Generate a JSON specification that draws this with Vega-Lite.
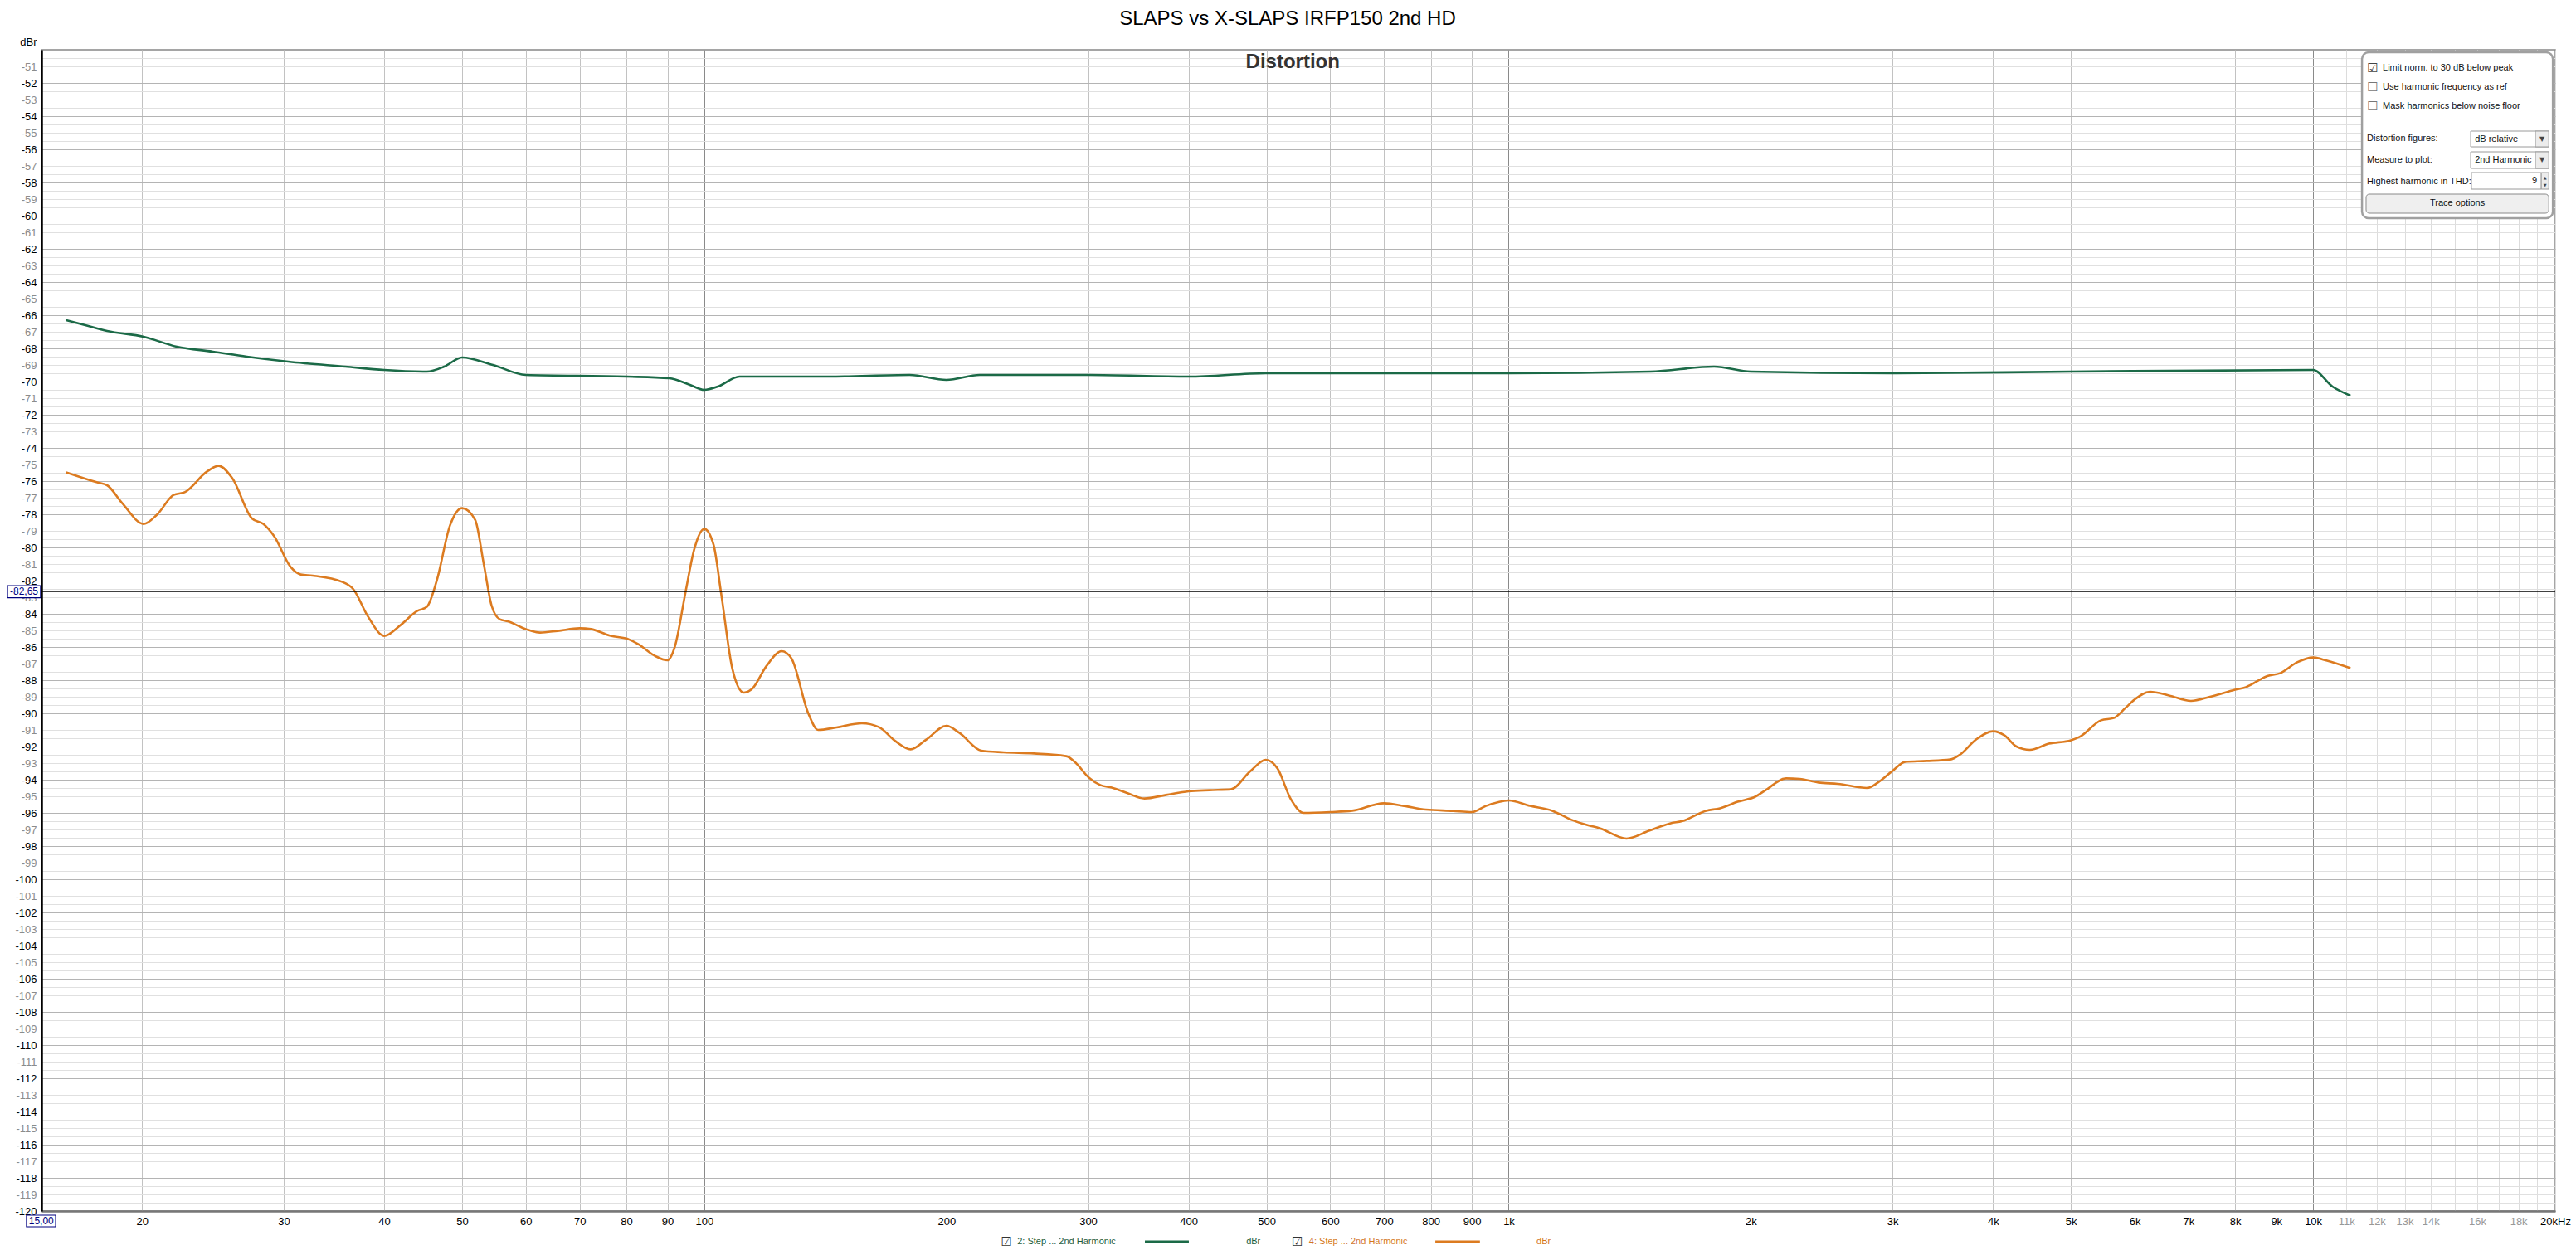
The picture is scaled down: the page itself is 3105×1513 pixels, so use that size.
{
  "$schema": "https://vega.github.io/schema/vega-lite/v6.json",
  "width": 3030,
  "height": 1400,
  "autosize": "none",
  "padding": {"left": 50, "top": 60, "right": 25, "bottom": 53},
  "background": "white",
  "title": {"text": "SLAPS vs X-SLAPS IRFP150 2nd HD", "font": "Liberation Sans", "fontSize": 24, "fontWeight": "normal", "color": "#000", "anchor": "middle", "dx": -13, "dy": 22, "offset": 12, "baseline": "alphabetic"},
  "config": {"view": {"stroke": "#888", "strokeWidth": 1.5}, "font": "Liberation Sans", "axis": {"labelOverlap": false, "labelSeparation": 0}},
  "data": {"values": [{}]},
  "datasets": {
    "curves": [
      {"series": "Step 2", "hz": 16.1, "db": -66.3},
      {"series": "Step 2", "hz": 17.0, "db": -66.6},
      {"series": "Step 2", "hz": 18.1, "db": -66.95},
      {"series": "Step 2", "hz": 20.1, "db": -67.3},
      {"series": "Step 2", "hz": 22.1, "db": -67.9},
      {"series": "Step 2", "hz": 24.5, "db": -68.2},
      {"series": "Step 2", "hz": 27, "db": -68.5},
      {"series": "Step 2", "hz": 30.4, "db": -68.8},
      {"series": "Step 2", "hz": 35.8, "db": -69.1},
      {"series": "Step 2", "hz": 40, "db": -69.3},
      {"series": "Step 2", "hz": 45.2, "db": -69.4},
      {"series": "Step 2", "hz": 47.5, "db": -69.1},
      {"series": "Step 2", "hz": 50, "db": -68.55},
      {"series": "Step 2", "hz": 54.6, "db": -69.0},
      {"series": "Step 2", "hz": 60, "db": -69.6},
      {"series": "Step 2", "hz": 80, "db": -69.7},
      {"series": "Step 2", "hz": 90.5, "db": -69.8},
      {"series": "Step 2", "hz": 96, "db": -70.2},
      {"series": "Step 2", "hz": 100, "db": -70.5},
      {"series": "Step 2", "hz": 104, "db": -70.3},
      {"series": "Step 2", "hz": 110.6, "db": -69.7},
      {"series": "Step 2", "hz": 143, "db": -69.7},
      {"series": "Step 2", "hz": 180, "db": -69.6},
      {"series": "Step 2", "hz": 200, "db": -69.9},
      {"series": "Step 2", "hz": 220, "db": -69.6},
      {"series": "Step 2", "hz": 300, "db": -69.6},
      {"series": "Step 2", "hz": 400, "db": -69.7},
      {"series": "Step 2", "hz": 500, "db": -69.5},
      {"series": "Step 2", "hz": 1000, "db": -69.5},
      {"series": "Step 2", "hz": 1500, "db": -69.4},
      {"series": "Step 2", "hz": 1800, "db": -69.1},
      {"series": "Step 2", "hz": 2000, "db": -69.4},
      {"series": "Step 2", "hz": 3000, "db": -69.5},
      {"series": "Step 2", "hz": 5000, "db": -69.4},
      {"series": "Step 2", "hz": 10000, "db": -69.3},
      {"series": "Step 2", "hz": 10570, "db": -70.3},
      {"series": "Step 2", "hz": 11130, "db": -70.85},
      {"series": "Step 4", "hz": 16.1, "db": -75.47},
      {"series": "Step 4", "hz": 17.6, "db": -76.08},
      {"series": "Step 4", "hz": 18.1, "db": -76.25},
      {"series": "Step 4", "hz": 18.9, "db": -77.33},
      {"series": "Step 4", "hz": 20.1, "db": -78.58},
      {"series": "Step 4", "hz": 20.9, "db": -78.0},
      {"series": "Step 4", "hz": 21.9, "db": -76.83},
      {"series": "Step 4", "hz": 22.6, "db": -76.67},
      {"series": "Step 4", "hz": 24.1, "db": -75.42},
      {"series": "Step 4", "hz": 24.9, "db": -75.08},
      {"series": "Step 4", "hz": 25.9, "db": -75.83},
      {"series": "Step 4", "hz": 27.4, "db": -78.25},
      {"series": "Step 4", "hz": 28.3, "db": -78.58},
      {"series": "Step 4", "hz": 29.2, "db": -79.33},
      {"series": "Step 4", "hz": 30.6, "db": -81.17},
      {"series": "Step 4", "hz": 31.5, "db": -81.63},
      {"series": "Step 4", "hz": 32.6, "db": -81.7},
      {"series": "Step 4", "hz": 35.5, "db": -82.08},
      {"series": "Step 4", "hz": 36.6, "db": -82.5},
      {"series": "Step 4", "hz": 38.2, "db": -84.17},
      {"series": "Step 4", "hz": 40.0, "db": -85.33},
      {"series": "Step 4", "hz": 41.95, "db": -84.67},
      {"series": "Step 4", "hz": 43.95, "db": -83.83},
      {"series": "Step 4", "hz": 45.2, "db": -83.58},
      {"series": "Step 4", "hz": 46.5, "db": -82.0},
      {"series": "Step 4", "hz": 48.3, "db": -78.67},
      {"series": "Step 4", "hz": 50.0, "db": -77.63},
      {"series": "Step 4", "hz": 51.9, "db": -78.33},
      {"series": "Step 4", "hz": 53.2, "db": -81.0},
      {"series": "Step 4", "hz": 54.4, "db": -83.5},
      {"series": "Step 4", "hz": 55.7, "db": -84.33},
      {"series": "Step 4", "hz": 57.0, "db": -84.45},
      {"series": "Step 4", "hz": 60.0, "db": -84.92},
      {"series": "Step 4", "hz": 62.5, "db": -85.13},
      {"series": "Step 4", "hz": 65.7, "db": -85.03},
      {"series": "Step 4", "hz": 70.0, "db": -84.87},
      {"series": "Step 4", "hz": 72.3, "db": -84.92},
      {"series": "Step 4", "hz": 76.5, "db": -85.33},
      {"series": "Step 4", "hz": 80.2, "db": -85.5},
      {"series": "Step 4", "hz": 82.8, "db": -85.83},
      {"series": "Step 4", "hz": 86.8, "db": -86.53},
      {"series": "Step 4", "hz": 90.0, "db": -86.8},
      {"series": "Step 4", "hz": 91.9, "db": -86.0},
      {"series": "Step 4", "hz": 94.8, "db": -82.67},
      {"series": "Step 4", "hz": 97.1, "db": -80.17},
      {"series": "Step 4", "hz": 100, "db": -78.88},
      {"series": "Step 4", "hz": 102.7, "db": -79.83},
      {"series": "Step 4", "hz": 105, "db": -82.83},
      {"series": "Step 4", "hz": 108.4, "db": -87.33},
      {"series": "Step 4", "hz": 112, "db": -88.75},
      {"series": "Step 4", "hz": 114.8, "db": -88.5},
      {"series": "Step 4", "hz": 119.4, "db": -87.17},
      {"series": "Step 4", "hz": 124.8, "db": -86.25},
      {"series": "Step 4", "hz": 128.3, "db": -86.67},
      {"series": "Step 4", "hz": 134.7, "db": -90.0},
      {"series": "Step 4", "hz": 138.5, "db": -91.0},
      {"series": "Step 4", "hz": 146, "db": -90.85},
      {"series": "Step 4", "hz": 157, "db": -90.6},
      {"series": "Step 4", "hz": 164.9, "db": -90.83},
      {"series": "Step 4", "hz": 172.8, "db": -91.67},
      {"series": "Step 4", "hz": 180.5, "db": -92.17},
      {"series": "Step 4", "hz": 188.8, "db": -91.58},
      {"series": "Step 4", "hz": 200, "db": -90.75},
      {"series": "Step 4", "hz": 207.5, "db": -91.17},
      {"series": "Step 4", "hz": 221, "db": -92.25},
      {"series": "Step 4", "hz": 235.5, "db": -92.35},
      {"series": "Step 4", "hz": 257, "db": -92.42},
      {"series": "Step 4", "hz": 281.8, "db": -92.58},
      {"series": "Step 4", "hz": 289.8, "db": -93.0},
      {"series": "Step 4", "hz": 300, "db": -93.83},
      {"series": "Step 4", "hz": 311, "db": -94.33},
      {"series": "Step 4", "hz": 321, "db": -94.47},
      {"series": "Step 4", "hz": 336.5, "db": -94.83},
      {"series": "Step 4", "hz": 352.5, "db": -95.13},
      {"series": "Step 4", "hz": 375, "db": -94.92},
      {"series": "Step 4", "hz": 400, "db": -94.7},
      {"series": "Step 4", "hz": 424.5, "db": -94.63},
      {"series": "Step 4", "hz": 451.5, "db": -94.58},
      {"series": "Step 4", "hz": 477, "db": -93.5},
      {"series": "Step 4", "hz": 499, "db": -92.8},
      {"series": "Step 4", "hz": 516, "db": -93.33},
      {"series": "Step 4", "hz": 536, "db": -95.17},
      {"series": "Step 4", "hz": 556, "db": -96.0},
      {"series": "Step 4", "hz": 600, "db": -95.95},
      {"series": "Step 4", "hz": 639, "db": -95.87},
      {"series": "Step 4", "hz": 700, "db": -95.42},
      {"series": "Step 4", "hz": 741, "db": -95.58},
      {"series": "Step 4", "hz": 789, "db": -95.8},
      {"series": "Step 4", "hz": 853, "db": -95.88},
      {"series": "Step 4", "hz": 900, "db": -95.95},
      {"series": "Step 4", "hz": 937, "db": -95.58},
      {"series": "Step 4", "hz": 1000, "db": -95.25},
      {"series": "Step 4", "hz": 1063, "db": -95.58},
      {"series": "Step 4", "hz": 1133, "db": -95.87},
      {"series": "Step 4", "hz": 1197, "db": -96.42},
      {"series": "Step 4", "hz": 1256, "db": -96.75},
      {"series": "Step 4", "hz": 1297, "db": -96.92},
      {"series": "Step 4", "hz": 1401, "db": -97.55},
      {"series": "Step 4", "hz": 1494, "db": -97.08},
      {"series": "Step 4", "hz": 1590, "db": -96.62},
      {"series": "Step 4", "hz": 1642, "db": -96.5},
      {"series": "Step 4", "hz": 1760, "db": -95.87},
      {"series": "Step 4", "hz": 1831, "db": -95.72},
      {"series": "Step 4", "hz": 1926, "db": -95.33},
      {"series": "Step 4", "hz": 2030, "db": -95.0},
      {"series": "Step 4", "hz": 2081, "db": -94.67},
      {"series": "Step 4", "hz": 2213, "db": -93.92},
      {"series": "Step 4", "hz": 2300, "db": -93.95},
      {"series": "Step 4", "hz": 2427, "db": -94.17},
      {"series": "Step 4", "hz": 2565, "db": -94.25},
      {"series": "Step 4", "hz": 2792, "db": -94.5},
      {"series": "Step 4", "hz": 2878, "db": -94.17},
      {"series": "Step 4", "hz": 3000, "db": -93.47},
      {"series": "Step 4", "hz": 3113, "db": -92.92},
      {"series": "Step 4", "hz": 3309, "db": -92.87},
      {"series": "Step 4", "hz": 3540, "db": -92.78},
      {"series": "Step 4", "hz": 3636, "db": -92.5},
      {"series": "Step 4", "hz": 3810, "db": -91.58},
      {"series": "Step 4", "hz": 4000, "db": -91.08},
      {"series": "Step 4", "hz": 4135, "db": -91.33},
      {"series": "Step 4", "hz": 4278, "db": -92.0},
      {"series": "Step 4", "hz": 4445, "db": -92.2},
      {"series": "Step 4", "hz": 4693, "db": -91.83},
      {"series": "Step 4", "hz": 5000, "db": -91.62},
      {"series": "Step 4", "hz": 5125, "db": -91.42},
      {"series": "Step 4", "hz": 5451, "db": -90.42},
      {"series": "Step 4", "hz": 5652, "db": -90.28},
      {"series": "Step 4", "hz": 5845, "db": -89.67},
      {"series": "Step 4", "hz": 6000, "db": -89.17},
      {"series": "Step 4", "hz": 6270, "db": -88.7},
      {"series": "Step 4", "hz": 6620, "db": -88.92},
      {"series": "Step 4", "hz": 7050, "db": -89.25},
      {"series": "Step 4", "hz": 7447, "db": -89.0},
      {"series": "Step 4", "hz": 8000, "db": -88.58},
      {"series": "Step 4", "hz": 8250, "db": -88.42},
      {"series": "Step 4", "hz": 8772, "db": -87.75},
      {"series": "Step 4", "hz": 9100, "db": -87.58},
      {"series": "Step 4", "hz": 9555, "db": -86.92},
      {"series": "Step 4", "hz": 10000, "db": -86.63},
      {"series": "Step 4", "hz": 10410, "db": -86.83},
      {"series": "Step 4", "hz": 11130, "db": -87.28}
    ]
  },
  "resolve": {"axis": {"y": "independent"}},
  "layer": [
    {
      "mark": {"type": "point", "opacity": 0},
      "encoding": {
        "y": {"datum": -100, "type": "quantitative", "scale": {"domain": [-120, -50], "nice": false, "zero": false},
          "axis": {"orient": "left", "title": null, "labels": false, "ticks": false, "domain": false, "tickCount": 1000,
            "values": [-120,-119.5,-119,-118.5,-118,-117.5,-117,-116.5,-116,-115.5,-115,-114.5,-114,-113.5,-113,-112.5,-112,-111.5,-111,-110.5,-110,-109.5,-109,-108.5,-108,-107.5,-107,-106.5,-106,-105.5,-105,-104.5,-104,-103.5,-103,-102.5,-102,-101.5,-101,-100.5,-100,-99.5,-99,-98.5,-98,-97.5,-97,-96.5,-96,-95.5,-95,-94.5,-94,-93.5,-93,-92.5,-92,-91.5,-91,-90.5,-90,-89.5,-89,-88.5,-88,-87.5,-87,-86.5,-86,-85.5,-85,-84.5,-84,-83.5,-83,-82.5,-82,-81.5,-81,-80.5,-80,-79.5,-79,-78.5,-78,-77.5,-77,-76.5,-76,-75.5,-75,-74.5,-74,-73.5,-73,-72.5,-72,-71.5,-71,-70.5,-70,-69.5,-69,-68.5,-68,-67.5,-67,-66.5,-66,-65.5,-65,-64.5,-64,-63.5,-63,-62.5,-62,-61.5,-61,-60.5,-60,-59.5,-59,-58.5,-58,-57.5,-57,-56.5,-56,-55.5,-55,-54.5,-54,-53.5,-53,-52.5,-52,-51.5,-51,-50.5],
            "grid": true, "gridWidth": 1,
            "gridColor": {"condition": {"test": "abs(datum.value % 2) < 0.01", "value": "#b4b4b4"}, "value": "#e0e0e0"}}}
      }
    },
    {
      "layer": [
        {
          "data": {"name": "curves"},
          "mark": {"type": "line", "interpolate": "monotone", "strokeWidth": 2.6},
          "encoding": {
            "x": {"field": "hz", "type": "quantitative", "scale": {"type": "log", "domain": [15, 20000], "nice": false},
              "axis": {"title": null, "tickCount": 1000, "values": [20,30,40,50,60,70,80,90,100,200,300,400,500,600,700,800,900,1000,2000,3000,4000,5000,6000,7000,8000,9000,10000,11000,12000,13000,14000,15000,16000,17000,18000,19000,20000],
                "labelExpr": "datum.value == 15000 || datum.value == 17000 || datum.value == 19000 ? '' : datum.value == 20000 ? '20kHz' : datum.value >= 1000 ? (datum.value / 1000) + 'k' : '' + datum.value",
                "labelFont": "Liberation Sans", "labelFontSize": 13, "labelPadding": 6, "labelOverlap": false, "labelFlush": false, "labelBound": false,
                "labelColor": {"condition": {"test": "datum.value > 10500 && datum.value < 19500", "value": "#999999"}, "value": "#000000"},
                "ticks": false, "domainColor": "#777777", "domainWidth": 2.5,
                "grid": true, "gridWidth": 1,
                "gridColor": {"condition": [{"test": "datum.value == 100 || datum.value == 1000 || datum.value == 10000", "value": "#8a8a8a"}, {"test": "datum.value > 10500", "value": "#dcdcdc"}], "value": "#c2c2c2"}}},
            "y": {"field": "db", "type": "quantitative", "scale": {"domain": [-120, -50], "nice": false, "zero": false},
              "axis": {"orient": "left", "title": "dBr", "titleAngle": 0, "titleAlign": "right", "titleBaseline": "alphabetic", "titleX": -6, "titleY": -6, "titleFont": "Liberation Sans", "titleFontSize": 13, "titleFontWeight": "normal", "titleColor": "#000", "tickCount": 1000,
                "values": [-120,-119,-118,-117,-116,-115,-114,-113,-112,-111,-110,-109,-108,-107,-106,-105,-104,-103,-102,-101,-100,-99,-98,-97,-96,-95,-94,-93,-92,-91,-90,-89,-88,-87,-86,-85,-84,-83,-82,-81,-80,-79,-78,-77,-76,-75,-74,-73,-72,-71,-70,-69,-68,-67,-66,-65,-64,-63,-62,-61,-60,-59,-58,-57,-56,-55,-54,-53,-52,-51],
                "labelExpr": "'-' + abs(datum.value)",
                "labelFont": "Liberation Sans", "labelFontSize": 13, "labelPadding": 6, "labelOverlap": false, "labelSeparation": 0, "labelFlush": false, "labelBound": false,
                "labelColor": {"condition": {"test": "abs(datum.value % 2) < 0.01", "value": "#000000"}, "value": "#8c8c8c"},
                "ticks": false, "domainColor": "#000000", "domainWidth": 2.5, "grid": false}},
            "color": {"field": "series", "type": "nominal", "scale": {"domain": ["Step 2", "Step 4"], "range": ["#1b6a47", "#dc7b20"]}, "legend": null}
          }
        },
        {"mark": {"type": "rule", "color": "#000000", "strokeWidth": 1.5}, "encoding": {"y": {"datum": -82.65}}},
        {"mark": {"type": "rect", "fill": "#ffffff", "stroke": "#000080", "strokeWidth": 1.2}, "encoding": {"x": {"datum": 13.61}, "x2": {"datum": 14.96}, "y": {"datum": -82.3}, "y2": {"datum": -83.035}}},
        {"mark": {"type": "text", "color": "#000080", "fontSize": 12, "font": "Liberation Sans", "align": "center", "baseline": "middle"}, "encoding": {"x": {"datum": 14.27}, "y": {"datum": -82.65}, "text": {"value": "-82,65"}}},
        {"mark": {"type": "rect", "fill": "#ffffff", "stroke": "#000080", "strokeWidth": 1.2}, "encoding": {"x": {"datum": 14.37}, "x2": {"datum": 15.62}, "y": {"datum": -120.25}, "y2": {"datum": -120.95}}},
        {"mark": {"type": "text", "color": "#000080", "fontSize": 12, "font": "Liberation Sans", "align": "center", "baseline": "middle"}, "encoding": {"x": {"datum": 14.99}, "y": {"datum": -120.6}, "text": {"value": "15,00"}}},
        {"mark": {"type": "text", "color": "#333333", "fontSize": 24, "fontWeight": "bold", "font": "Liberation Sans", "align": "center", "baseline": "middle"}, "encoding": {"x": {"datum": 539}, "y": {"datum": -50.75}, "text": {"value": "Distortion"}}},
        {"mark": {"type": "rect", "fill": "#ffffff", "stroke": "#a0a0a0", "strokeWidth": 2.5, "cornerRadius": 8}, "encoding": {"x": {"datum": 11503}, "x2": {"datum": 19865}, "y": {"datum": -50.15}, "y2": {"datum": -60.15}}},
        {"mark": {"type": "text", "color": "#444444", "fontSize": 15, "font": "DejaVu Sans", "align": "center", "baseline": "middle"}, "encoding": {"x": {"datum": 11863}, "y": {"datum": -51.1}, "text": {"value": "☑"}}},
        {"mark": {"type": "text", "color": "#777777", "fontSize": 15, "font": "DejaVu Sans", "align": "center", "baseline": "middle"}, "encoding": {"x": {"datum": 11863}, "y": {"datum": -52.25}, "text": {"value": "☐"}}},
        {"mark": {"type": "text", "color": "#777777", "fontSize": 15, "font": "DejaVu Sans", "align": "center", "baseline": "middle"}, "encoding": {"x": {"datum": 11863}, "y": {"datum": -53.4}, "text": {"value": "☐"}}},
        {"mark": {"type": "text", "color": "#111111", "fontSize": 11, "font": "Liberation Sans", "align": "left", "baseline": "middle"}, "encoding": {"x": {"datum": 12206}, "y": {"datum": -51.1}, "text": {"value": "Limit norm. to 30 dB below peak"}}},
        {"mark": {"type": "text", "color": "#111111", "fontSize": 11, "font": "Liberation Sans", "align": "left", "baseline": "middle"}, "encoding": {"x": {"datum": 12206}, "y": {"datum": -52.25}, "text": {"value": "Use harmonic frequency as ref"}}},
        {"mark": {"type": "text", "color": "#111111", "fontSize": 11, "font": "Liberation Sans", "align": "left", "baseline": "middle"}, "encoding": {"x": {"datum": 12206}, "y": {"datum": -53.4}, "text": {"value": "Mask harmonics below noise floor"}}},
        {"mark": {"type": "text", "color": "#111111", "fontSize": 11, "font": "Liberation Sans", "align": "left", "baseline": "middle"}, "encoding": {"x": {"datum": 11667}, "y": {"datum": -55.35}, "text": {"value": "Distortion figures:"}}},
        {"mark": {"type": "text", "color": "#111111", "fontSize": 11, "font": "Liberation Sans", "align": "left", "baseline": "middle"}, "encoding": {"x": {"datum": 11667}, "y": {"datum": -56.65}, "text": {"value": "Measure to plot:"}}},
        {"mark": {"type": "text", "color": "#111111", "fontSize": 11, "font": "Liberation Sans", "align": "left", "baseline": "middle"}, "encoding": {"x": {"datum": 11667}, "y": {"datum": -57.95}, "text": {"value": "Highest harmonic in THD:"}}},
        {"mark": {"type": "rect", "fill": "#ffffff", "stroke": "#9a9a9a", "strokeWidth": 1}, "encoding": {"x": {"datum": 15699}, "x2": {"datum": 19632}, "y": {"datum": -54.9}, "y2": {"datum": -55.85}}},
        {"mark": {"type": "rect", "fill": "#ffffff", "stroke": "#9a9a9a", "strokeWidth": 1}, "encoding": {"x": {"datum": 15699}, "x2": {"datum": 19632}, "y": {"datum": -56.15}, "y2": {"datum": -57.15}}},
        {"mark": {"type": "rect", "fill": "#ffffff", "stroke": "#9a9a9a", "strokeWidth": 1}, "encoding": {"x": {"datum": 15735}, "x2": {"datum": 19216}, "y": {"datum": -57.4}, "y2": {"datum": -58.4}}},
        {"mark": {"type": "rect", "fill": "#ececec", "stroke": "#9a9a9a", "strokeWidth": 1}, "encoding": {"x": {"datum": 18894}, "x2": {"datum": 19632}, "y": {"datum": -54.9}, "y2": {"datum": -55.85}}},
        {"mark": {"type": "rect", "fill": "#ececec", "stroke": "#9a9a9a", "strokeWidth": 1}, "encoding": {"x": {"datum": 18894}, "x2": {"datum": 19632}, "y": {"datum": -56.15}, "y2": {"datum": -57.15}}},
        {"mark": {"type": "rect", "fill": "#ececec", "stroke": "#9a9a9a", "strokeWidth": 1}, "encoding": {"x": {"datum": 19216}, "x2": {"datum": 19632}, "y": {"datum": -57.4}, "y2": {"datum": -58.4}}},
        {"mark": {"type": "text", "color": "#444444", "fontSize": 8, "font": "DejaVu Sans", "align": "center", "baseline": "middle"}, "encoding": {"x": {"datum": 19261}, "y": {"datum": -55.38}, "text": {"value": "▼"}}},
        {"mark": {"type": "text", "color": "#444444", "fontSize": 8, "font": "DejaVu Sans", "align": "center", "baseline": "middle"}, "encoding": {"x": {"datum": 19261}, "y": {"datum": -56.65}, "text": {"value": "▼"}}},
        {"mark": {"type": "text", "color": "#444444", "fontSize": 5, "font": "DejaVu Sans", "align": "center", "baseline": "middle"}, "encoding": {"x": {"datum": 19420}, "y": {"datum": -57.68}, "text": {"value": "▲"}}},
        {"mark": {"type": "text", "color": "#444444", "fontSize": 5, "font": "DejaVu Sans", "align": "center", "baseline": "middle"}, "encoding": {"x": {"datum": 19420}, "y": {"datum": -58.13}, "text": {"value": "▼"}}},
        {"mark": {"type": "text", "color": "#111111", "fontSize": 11, "font": "Liberation Sans", "align": "left", "baseline": "middle"}, "encoding": {"x": {"datum": 15890}, "y": {"datum": -55.38}, "text": {"value": "dB relative"}}},
        {"mark": {"type": "text", "color": "#111111", "fontSize": 11, "font": "Liberation Sans", "align": "left", "baseline": "middle"}, "encoding": {"x": {"datum": 15890}, "y": {"datum": -56.65}, "text": {"value": "2nd Harmonic"}}},
        {"mark": {"type": "text", "color": "#111111", "fontSize": 11, "font": "Liberation Sans", "align": "right", "baseline": "middle"}, "encoding": {"x": {"datum": 18984}, "y": {"datum": -57.9}, "text": {"value": "9"}}},
        {"mark": {"type": "rect", "fill": "#efefef", "stroke": "#8a8a8a", "strokeWidth": 1, "cornerRadius": 4}, "encoding": {"x": {"datum": 11638}, "x2": {"datum": 19632}, "y": {"datum": -58.7}, "y2": {"datum": -59.85}}},
        {"mark": {"type": "text", "color": "#111111", "fontSize": 11, "font": "Liberation Sans", "align": "center", "baseline": "middle"}, "encoding": {"x": {"datum": 15114}, "y": {"datum": -59.27}, "text": {"value": "Trace options"}}},
        {"mark": {"type": "text", "color": "#333333", "fontSize": 15, "font": "DejaVu Sans", "align": "center", "baseline": "middle"}, "encoding": {"x": {"datum": 237.5}, "y": {"datum": -121.85}, "text": {"value": "☑"}}},
        {"mark": {"type": "text", "color": "#1d5e3f", "fontSize": 11, "font": "Liberation Sans", "align": "left", "baseline": "middle"}, "encoding": {"x": {"datum": 245}, "y": {"datum": -121.85}, "text": {"value": "2: Step ... 2nd Harmonic"}}},
        {"mark": {"type": "rule", "color": "#1b6a47", "strokeWidth": 3}, "encoding": {"x": {"datum": 353}, "x2": {"datum": 400.3}, "y": {"datum": -121.85}}},
        {"mark": {"type": "text", "color": "#1d5e3f", "fontSize": 11, "font": "Liberation Sans", "align": "left", "baseline": "middle"}, "encoding": {"x": {"datum": 471.8}, "y": {"datum": -121.85}, "text": {"value": "dBr"}}},
        {"mark": {"type": "text", "color": "#333333", "fontSize": 15, "font": "DejaVu Sans", "align": "center", "baseline": "middle"}, "encoding": {"x": {"datum": 546}, "y": {"datum": -121.85}, "text": {"value": "☑"}}},
        {"mark": {"type": "text", "color": "#d4781f", "fontSize": 11, "font": "Liberation Sans", "align": "left", "baseline": "middle"}, "encoding": {"x": {"datum": 564.7}, "y": {"datum": -121.85}, "text": {"value": "4: Step ... 2nd Harmonic"}}},
        {"mark": {"type": "rule", "color": "#dc7b20", "strokeWidth": 3}, "encoding": {"x": {"datum": 810.6}, "x2": {"datum": 921}, "y": {"datum": -121.85}}},
        {"mark": {"type": "text", "color": "#d4781f", "fontSize": 11, "font": "Liberation Sans", "align": "left", "baseline": "middle"}, "encoding": {"x": {"datum": 1083}, "y": {"datum": -121.85}, "text": {"value": "dBr"}}}
      ]
    }
  ]
}
